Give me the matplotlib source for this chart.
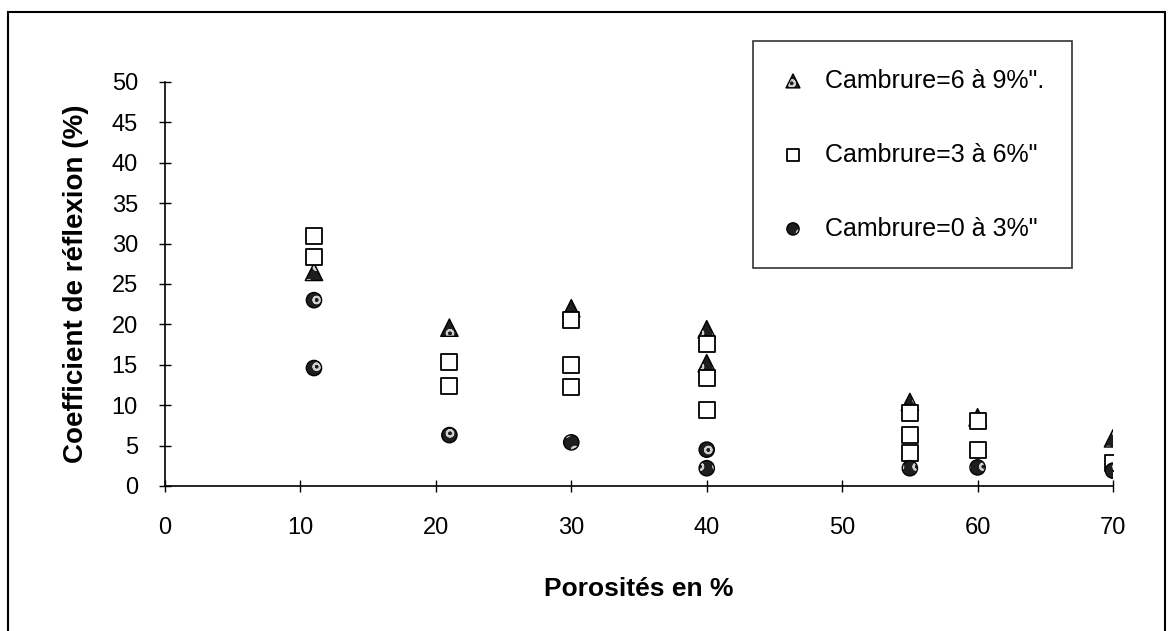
import matplotlib
matplotlib.use('Agg')
import matplotlib.pyplot as plt
from matplotlib.patches import Rectangle

plt.rcParams['font.family'] = ['Liberation Sans', 'DejaVu Sans']
plt.rcParams['hatch.linewidth'] = 1.4

# porosite (%) / coefficient de reflexion (%) par classe de cambrure
tri_x = [11, 21, 30, 40, 40, 55, 60, 70]
tri_y = [26.5, 19.6, 22.0, 19.4, 15.2, 10.4, 8.5, 5.9]

sq_x = [11, 11, 21, 21, 30, 30, 30, 40, 40, 40, 55, 55, 55, 60, 60, 70]
sq_y = [31.0, 28.4, 15.4, 12.4, 20.5, 15.0, 12.3, 17.6, 13.4, 9.4, 9.0, 6.3, 4.1, 8.0, 4.5, 2.8]

circ_x = [11, 11, 21, 30, 40, 40, 55, 60, 70]
circ_y = [23.0, 14.6, 6.3, 5.4, 4.5, 2.2, 2.2, 2.3, 1.9]

labels = ['Cambrure=6 à 9%".', 'Cambrure=3 à 6%"', 'Cambrure=0 à 3%"']
xticks = [0, 10, 20, 30, 40, 50, 60, 70]
yticks = [0, 5, 10, 15, 20, 25, 30, 35, 40, 45, 50]

fig = plt.figure(figsize=(11.73, 6.31), dpi=100)
ax = fig.add_axes([165 / 1173, 1 - 486 / 631, (1113 - 165) / 1173, (486 - 82) / 631])

# triangles (remplis, motif pointille)
t1 = ax.scatter(tri_x, tri_y, marker='^', s=12.5**2, facecolor='#1e1e1e', edgecolor='#cfcfcf',
                linewidth=0, hatch='o', zorder=3)
t2 = ax.scatter(tri_x, tri_y, marker='^', s=12.5**2, facecolor='none', edgecolor='black',
                linewidth=1.0, zorder=3)
# carres vides
s1 = ax.scatter(sq_x, sq_y, marker='s', s=11.5**2, facecolor='white', edgecolor='black',
                linewidth=1.3, zorder=4)
# cercles (remplis, motif)
c1 = ax.scatter(circ_x, circ_y, marker='o', s=11**2, facecolor='#1e1e1e', edgecolor='#cfcfcf',
                linewidth=0, hatch='o', zorder=5)
c2 = ax.scatter(circ_x, circ_y, marker='o', s=11**2, facecolor='none', edgecolor='black',
                linewidth=1.0, zorder=5)

ax.set_xlim(0, 70)
ax.set_ylim(0, 50)
ax.set_xticks(xticks)
ax.set_yticks(yticks)
ax.spines['top'].set_visible(False)
ax.spines['right'].set_visible(False)
for sp in ['left', 'bottom']:
    ax.spines[sp].set_linewidth(1.2)
ax.tick_params(axis='y', direction='inout', length=9, width=1, labelsize=17, pad=15)
ax.tick_params(axis='x', direction='inout', length=8, width=1, labelsize=17, pad=18)

ax.set_ylabel('Coefficient de réflexion (%)', fontsize=20, fontweight='bold', labelpad=16)
ax.set_xlabel('Porosités en %', fontsize=19, fontweight='bold', labelpad=28)

leg = fig.legend([(t1, t2), s1, (c1, c2)], labels, loc='upper left',
                 bbox_to_anchor=(753 / 1173, 1 - 41 / 631), bbox_transform=fig.transFigure,
                 fontsize=18, markerscale=0.8, frameon=True, fancybox=False,
                 labelspacing=2.0, borderpad=1.1, handlelength=1.0, handletextpad=0.8,
                 borderaxespad=0)
leg.get_frame().set_edgecolor('black')
leg.get_frame().set_linewidth(1.2)

# cadre exterieur
fig.patches.append(Rectangle((8 / 1173, -0.02), (1165 - 8) / 1173, 1.02 - 12 / 631,
                             transform=fig.transFigure, fill=False, edgecolor='black',
                             linewidth=1.5))

fig.savefig('out.png', dpi=100)
